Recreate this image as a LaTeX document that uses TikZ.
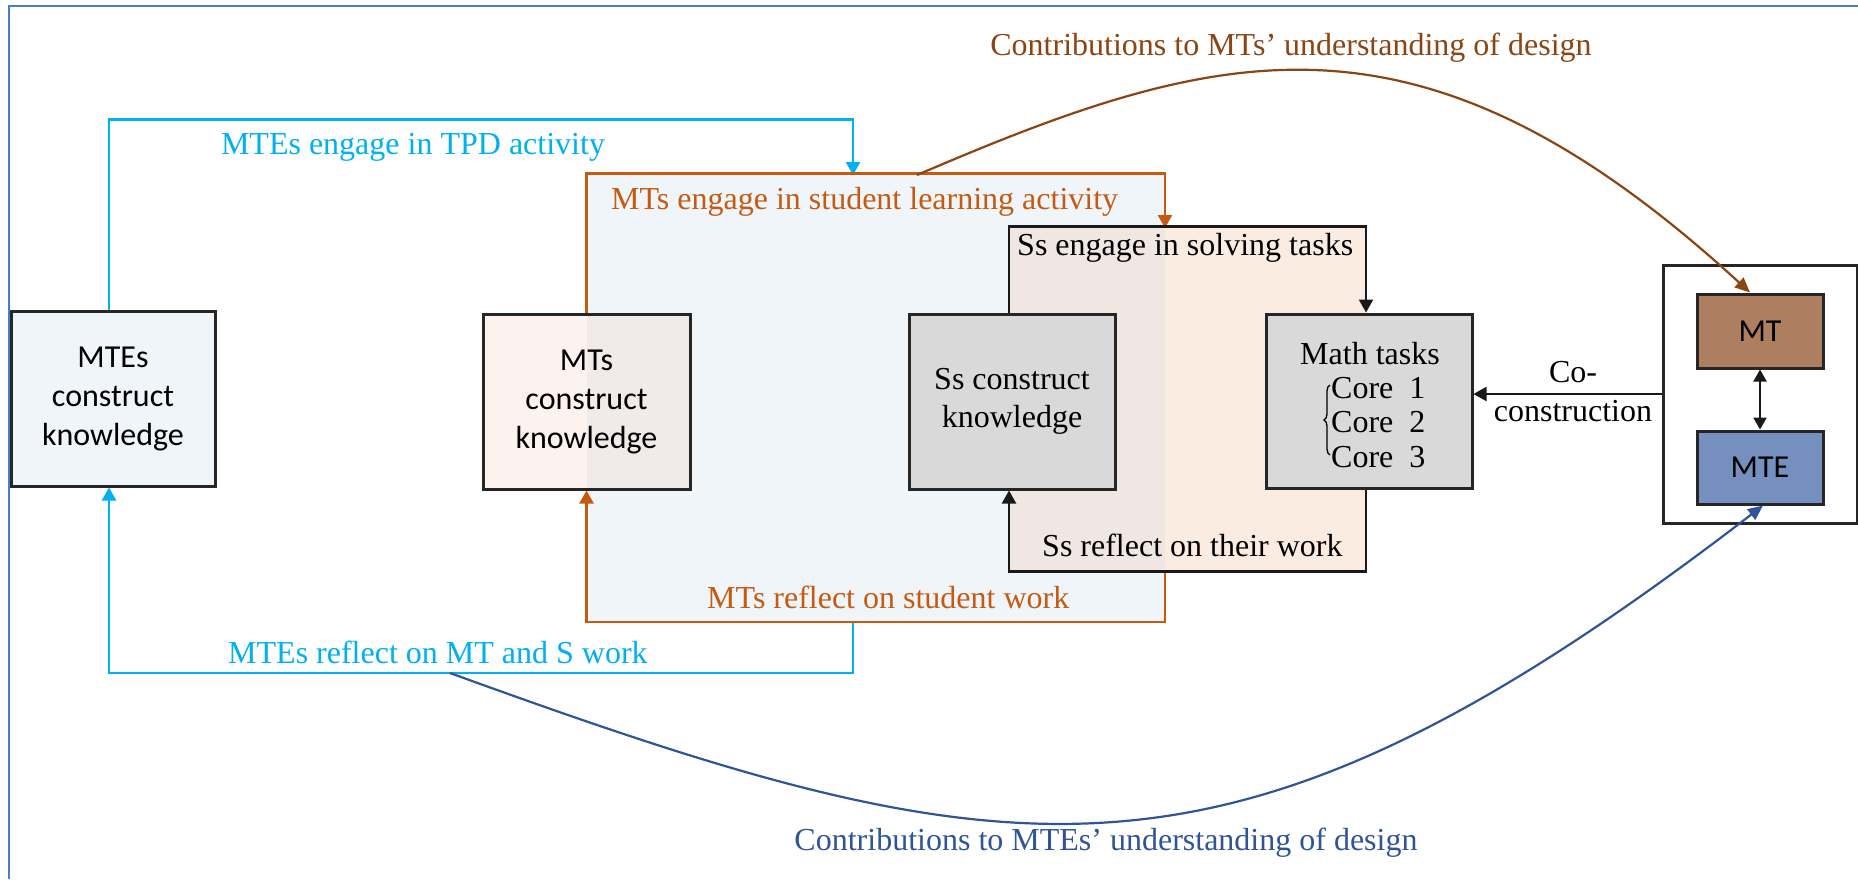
\documentclass[tikz,border=0pt]{standalone}
\usepackage{fontspec}
\setmainfont{Liberation Serif}
\newfontfamily\calibri{Carlito}
\usetikzlibrary{arrows.meta,decorations.pathreplacing,calc}
\definecolor{cyanL}{HTML}{00B0F0}
\definecolor{orangeL}{HTML}{C55A11}
\definecolor{brownL}{HTML}{8B4513}
\definecolor{blueL}{HTML}{2F5597}
\definecolor{frameL}{HTML}{4A7CC8}
\definecolor{bluefill}{HTML}{F0F5FA}
\definecolor{peachfill}{HTML}{FBECE2}
\definecolor{mixfill}{HTML}{F0E6E2}
\definecolor{mtsleft}{HTML}{FDF3EE}
\definecolor{mtsright}{HTML}{F0EAE8}
\definecolor{grayfill}{HTML}{D9D9D9}
\definecolor{mtfill}{HTML}{AD7E60}
\definecolor{mtefill}{HTML}{758FBF}
\begin{document}
\begin{tikzpicture}[x=1pt,y=-1pt,
  box/.style={draw=black!85, line width=3pt, inner sep=0pt, align=center},
  tri/.style={-{Triangle[length=13pt,width=14pt]}},
  lab/.style={inner sep=0pt, font=\fontsize{32}{38}\selectfont},
  cal/.style={inner sep=0pt, font=\calibri\fontsize{32}{39}\selectfont},
  cyanline/.style={cyanL, line width=2.5pt},
  orangeline/.style={orangeL, line width=2.5pt},
  blackline/.style={black!90, line width=2.2pt},
]
\useasboundingbox (0,0) rectangle (1858,879);
% shaded activity regions
\fill[bluefill] (587,175) rectangle (1165,622);
\fill[peachfill] (1009,228) rectangle (1366,570);
\fill[mixfill] (1009,228) rectangle (1165,570);

% frame
\draw[frameL, line width=2pt] (9,879) -- (9,6) -- (1858,6);

% boxes
\node[box, cal, fill=bluefill, minimum width=204pt, minimum height=175pt] (mtes) at (113,398.5) {MTEs\\construct\\knowledge};
\node[box, cal, fill=mtsleft, minimum width=207pt, minimum height=175pt,
  path picture={\fill[mtsright] (path picture bounding box.north) rectangle (path picture bounding box.south east);}] (mts) at (586.5,401.5) {MTs\\construct\\knowledge};
\node[box, lab, fill=grayfill, minimum width=206pt, minimum height=175pt] (ss) at (1012,401.5) {Ss construct\\knowledge};
\node[box, fill=grayfill, minimum width=206pt, minimum height=174pt] (math) at (1369,401) {};
\node[lab] (mathtitle) at (1370,354) {Math tasks};
\node[lab, anchor=west] (core1) at (1331,388) {Core\enspace 1};
\node[lab, anchor=west] (core2) at (1331,422) {Core\enspace 2};
\node[lab, anchor=west] (core3) at (1331,457) {Core\enspace 3};
\draw[black, line width=1.3pt, decorate, decoration={brace, amplitude=6pt}] (1330,455) -- (1330,385);

\node[draw=black!85, line width=3pt, fill=white, minimum width=194pt, minimum height=258pt] (pair) at (1760,394) {};
\node[box, cal, fill=mtfill, minimum width=126pt, minimum height=74pt] (mt) at (1760,331) {MT};
\node[box, cal, fill=mtefill, minimum width=126pt, minimum height=73pt] (mte) at (1760,467.5) {MTE};

% junction coordinates on the bracket lines
\coordinate (orTopC) at (853,175);
\coordinate (orBotC) at (853,622);
\coordinate (blTopO) at (1165,228);
\coordinate (blBotO) at (1165,570);
\coordinate (bstart) at (917,175);
\coordinate (cstart) at (450,673);

% cyan loop
\draw[cyanline, tri] ([xshift=-4pt]mtes.north) -- ++(0,-190) -| (orTopC);
\draw[cyanline, tri] (orBotC) -- ++(0,51) -| ([xshift=-4pt]mtes.south);
% orange loop
\draw[orangeline, tri] (mts.north) -- ++(0,-139) -| (blTopO);
\draw[orangeline, tri] (blBotO) -- ++(0,52) -| (mts.south);
% black loop
\draw[blackline, tri] ([xshift=-3pt]ss.north) -- ++(0,-86) -| ([xshift=-3pt]math.north);
\draw[blackline, tri] ([xshift=-3pt]math.south) -- ++(0,82) -| ([xshift=-3pt]ss.south);
% co-construction
\draw[blackline, tri] (pair.west) -- (pair.west -| math.east);
\draw[blackline, {Triangle[length=12pt,width=13pt]}-{Triangle[length=12pt,width=13pt]}] (mt.south) -- (mte.north);

% contribution curves
\draw[brownL, line width=2.2pt, -{Triangle[length=15pt,width=13pt]}] (bstart) .. controls (1220,45) and (1420,-10) .. ([xshift=-10pt]mt.north);
\draw[blueL, line width=2.2pt, -{Triangle[length=15pt,width=13pt]}] (cstart) .. controls (1020,880) and (1230,915) .. ([xshift=3pt]mte.south);

% labels
\node[lab, text=cyanL] (t1) at (413,147) {MTEs engage in TPD activity};
\node[lab, text=orangeL, anchor=west] (t2) at (611,202) {MTs engage in student learning activity};
\node[lab, anchor=west] (t3) at (1017,248) {Ss engage in solving tasks};
\node[lab, text=brownL] (t4) at (1291,48) {Contributions to MTs’ understanding of design};
\node[lab] (co1) at (1573,372) {Co-};
\node[lab] (co2) at (1573,411) {construction};
\node[lab, anchor=west] (t6) at (1042,545) {Ss reflect on their work};
\node[lab, text=orangeL, anchor=west] (t7) at (707,597) {MTs reflect on student work};
\node[lab, text=cyanL, anchor=west] (t8) at (228,652) {MTEs reflect on MT and S work};
\node[lab, text=blueL] (t9) at (1106,843) {Contributions to MTEs’ understanding of design};
\end{tikzpicture}
\end{document}
